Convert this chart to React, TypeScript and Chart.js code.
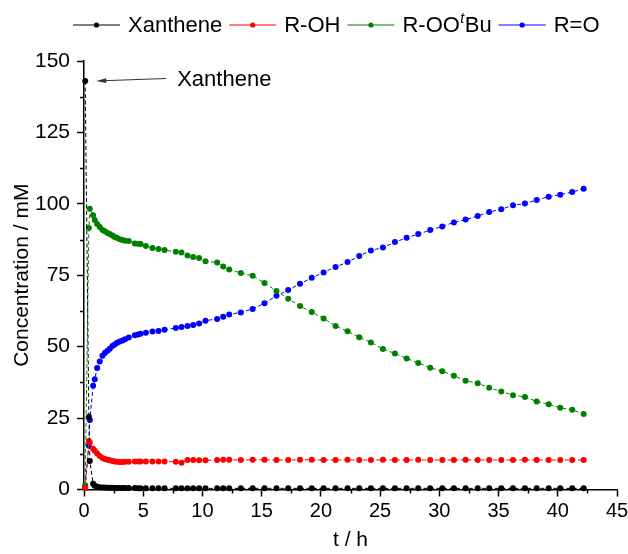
import React, { useEffect, useRef } from 'react';
import { Chart, registerables } from 'chart.js';

Chart.register(...registerables);

const FONT = '"Liberation Sans", Arial, Helvetica, sans-serif';

// time (h)
const timeH = [
  0.1, 0.41, 0.49, 0.77, 0.91, 1.11, 1.33, 1.56, 1.76, 1.98,
  2.18, 2.4, 2.6, 2.8, 3.02, 3.25, 3.47, 3.78, 4.29, 4.57,
  4.77, 5.22, 5.78, 6.29, 6.8, 7.75, 8.23, 8.74, 9.22, 9.72,
  10.26, 11.24, 11.75, 12.26, 13.24, 14.24, 15.24, 16.25, 17.24, 18.24,
  19.23, 20.23, 21.24, 22.25, 23.24, 24.22, 25.24, 26.25, 27.24, 28.22,
  29.23, 30.25, 31.23, 32.22, 33.24, 34.21, 35.23, 36.22, 37.23, 38.22,
  39.23, 40.21, 41.22, 42.19,
];

const xanthene = [
  143, 25.5, 10.0, 2.0, 1.3, 1.0, 0.8, 0.7, 0.7, 0.6,
  0.6, 0.6, 0.5, 0.5, 0.5, 0.5, 0.5, 0.5, 0.5, 0.4,
  0.4, 0.4, 0.4, 0.4, 0.4, 0.4, 0.4, 0.4, 0.4, 0.4,
  0.4, 0.4, 0.4, 0.4, 0.4, 0.4, 0.4, 0.4, 0.4, 0.4,
  0.4, 0.4, 0.4, 0.4, 0.4, 0.4, 0.4, 0.4, 0.4, 0.4,
  0.4, 0.4, 0.4, 0.4, 0.4, 0.4, 0.4, 0.4, 0.4, 0.4,
  0.4, 0.4, 0.4, 0.4,
];

const rOH = [
  0.5, 17.0, 16.5, 14.3, 13.6, 12.6, 11.7, 11.0, 10.7, 10.4,
  10.2, 10.0, 9.8, 9.7, 9.6, 9.6, 9.7, 9.7, 9.8, 9.8,
  9.8, 9.8, 9.8, 9.8, 9.8, 9.7, 9.4, 10.3, 10.3, 10.2,
  10.2, 10.3, 10.4, 10.4, 10.3, 10.4, 10.4, 10.3, 10.3, 10.4,
  10.4, 10.3, 10.3, 10.4, 10.3, 10.3, 10.4, 10.3, 10.3, 10.4,
  10.3, 10.3, 10.3, 10.4, 10.3, 10.3, 10.3, 10.3, 10.4, 10.3,
  10.3, 10.3, 10.3, 10.3,
];

const rOOtBu = [
  1.5, 91.5, 98.3, 96.0, 94.3, 92.9, 91.9, 90.8, 90.4, 89.8,
  89.4, 88.9, 88.4, 88.0, 87.6, 87.3, 87.1, 87.0, 86.1, 86.0,
  85.9, 85.2, 84.5, 84.2, 83.8, 83.2, 83.0, 81.9, 81.4, 81.0,
  79.9, 79.5, 78.1, 77.0, 75.8, 74.8, 72.3, 69.5, 66.8, 64.2,
  62.1, 59.9, 57.2, 55.4, 53.3, 51.5, 49.2, 47.6, 45.9, 44.3,
  42.6, 41.4, 39.8, 38.1, 37.2, 35.6, 34.3, 33.0, 32.4, 30.8,
  29.8, 28.6, 27.9, 26.4,
];

const rO = [
  1.0, 15.4, 24.3, 36.3, 38.6, 42.5, 44.8, 46.8, 47.8, 48.6,
  49.3, 50.2, 50.8, 51.4, 51.8, 52.2, 52.6, 53.2, 54.0, 54.3,
  54.5, 54.9, 55.3, 55.5, 55.9, 56.5, 56.9, 57.2, 57.6, 58.1,
  59.1, 59.7, 60.5, 61.3, 62.0, 63.2, 65.2, 67.8, 69.8, 72.0,
  74.1, 76.0, 77.9, 79.6, 81.7, 83.7, 84.7, 86.6, 88.1, 89.4,
  90.8, 92.1, 93.5, 94.5, 95.7, 97.1, 98.1, 99.5, 100.1, 101.3,
  102.5, 103.2, 104.1, 105.3,
];

const seriesLabels = ['Xanthene', 'R-OH', 'R-OO\u1D57Bu', 'R=O'];
const seriesColors = ['#000000', '#ff0000', '#008000', '#0000ff'];
const seriesValues = [xanthene, rOH, rOOtBu, rO];

const xMin = 0, xMax = 45, xStep = 5;
const yMin = 0, yMax = 150, yStep = 25;
const xTitle = 't / h';
const yTitle = 'Concentration / mM';
const annotationText = 'Xanthene';

const legendPlugin = {
  id: 'customLegend',
  afterDraw(chart: any) {
    const ctx = chart.ctx;
    ctx.save();
    let x = 73;
    const y = 25;
    chart.data.datasets.forEach((ds: any) => {
      const c = ds.borderColor;
      ctx.strokeStyle = c;
      ctx.lineWidth = 1.2;
      ctx.setLineDash([]);
      ctx.beginPath();
      ctx.moveTo(x, y);
      ctx.lineTo(x + 47, y);
      ctx.stroke();
      ctx.fillStyle = c;
      ctx.beginPath();
      ctx.arc(x + 23.5, y, 2.6, 0, Math.PI * 2);
      ctx.fill();
      x += 55;
      ctx.fillStyle = '#000';
      ctx.textBaseline = 'middle';
      ctx.textAlign = 'left';
      const parts = String(ds.label).split('\u1D57');
      ctx.font = `22px ${FONT}`;
      ctx.fillText(parts[0], x, y + 1);
      x += ctx.measureText(parts[0]).width;
      if (parts.length > 1) {
        ctx.font = `italic 14px ${FONT}`;
        ctx.fillText('t', x + 0.5, y - 6);
        x += ctx.measureText('t').width + 1;
        ctx.font = `22px ${FONT}`;
        ctx.fillText(parts[1], x, y + 1);
        x += ctx.measureText(parts[1]).width;
      }
      x += 7;
    });
    ctx.restore();
  },
};

const extrasPlugin = {
  id: 'extras',
  afterDraw(chart: any) {
    const ctx = chart.ctx;
    const xs = chart.scales.x;
    const ys = chart.scales.y;
    const { left, bottom } = chart.chartArea;
    ctx.save();
    // minor ticks
    ctx.strokeStyle = '#000';
    ctx.lineWidth = 1.5;
    ctx.setLineDash([]);
    for (let v = xMin + xStep / 2; v < xMax; v += xStep) {
      const px = Math.round(xs.getPixelForValue(v)) + 0.5;
      ctx.beginPath();
      ctx.moveTo(px, bottom);
      ctx.lineTo(px, bottom + 4);
      ctx.stroke();
    }
    for (let v = yMin + yStep / 2; v < yMax; v += yStep) {
      const py = Math.round(ys.getPixelForValue(v)) + 0.5;
      ctx.beginPath();
      ctx.moveTo(left, py);
      ctx.lineTo(left - 4, py);
      ctx.stroke();
    }
    // annotation arrow
    const tipX = xs.getPixelForValue(timeH[0]) + 11;
    const tipY = ys.getPixelForValue(xanthene[0]);
    const tailX = tipX + 70;
    const tailY = tipY - 2.5;
    ctx.strokeStyle = '#333';
    ctx.fillStyle = '#333';
    ctx.lineWidth = 1;
    ctx.beginPath();
    ctx.moveTo(tailX, tailY);
    ctx.lineTo(tipX + 8, tipY - 0.3);
    ctx.stroke();
    ctx.beginPath();
    ctx.moveTo(tipX, tipY);
    ctx.lineTo(tipX + 10, tipY - 2.7);
    ctx.lineTo(tipX + 10, tipY + 2.1);
    ctx.closePath();
    ctx.fill();
    ctx.fillStyle = '#000';
    ctx.font = `22px ${FONT}`;
    ctx.textAlign = 'left';
    ctx.textBaseline = 'middle';
    ctx.fillText(annotationText, tailX + 11, tailY + 1);
    ctx.restore();
  },
};

export default function App() {
  const canvasRef = useRef<HTMLCanvasElement | null>(null);

  useEffect(() => {
    const canvas = canvasRef.current;
    if (!canvas) return;
    const datasets = seriesLabels.map((label, i) => ({
      label,
      data: timeH.map((t, j) => ({ x: t, y: seriesValues[i][j] })),
      borderColor: seriesColors[i],
      backgroundColor: seriesColors[i],
      pointBackgroundColor: seriesColors[i],
      pointBorderWidth: 0,
      pointRadius: 3,
      borderWidth: 1,
      borderDash: [4, 2.5],
      tension: 0,
      fill: false,
      clip: false as any,
    }));
    const chart = new Chart(canvas, {
      type: 'line',
      data: { datasets },
      options: {
        animation: false,
        responsive: false,
        devicePixelRatio: 1,
        events: [],
        layout: { padding: { left: 0, right: 11, top: 61, bottom: 0 } },
        plugins: {
          legend: { display: false },
          tooltip: { enabled: false },
        },
        scales: {
          x: {
            type: 'linear',
            position: 'bottom',
            min: xMin,
            max: xMax,
            ticks: {
              stepSize: xStep,
              autoSkip: false,
              maxRotation: 0,
              color: '#000',
              padding: 3,
              font: { size: 20, family: FONT },
            },
            grid: {
              drawOnChartArea: false,
              drawTicks: true,
              tickLength: 7,
              tickWidth: 1.5,
              tickColor: '#000',
            },
            border: { display: true, color: '#000', width: 1.5 },
            title: {
              display: true,
              text: xTitle,
              color: '#000',
              font: { size: 21, family: FONT },
              padding: { top: 0, bottom: 1.5 },
            },
            afterFit: (s: any) => {
              s.height = 64.5;
              s.paddingRight = 0;
              s.paddingLeft = 0;
            },
          },
          y: {
            type: 'linear',
            min: yMin,
            max: yMax,
            ticks: {
              stepSize: yStep,
              color: '#000',
              padding: 7,
              font: { size: 21, family: FONT },
            },
            grid: {
              drawOnChartArea: false,
              drawTicks: true,
              tickLength: 7,
              tickWidth: 1.5,
              tickColor: '#000',
            },
            border: { display: true, color: '#000', width: 1.5 },
            title: {
              display: true,
              text: yTitle,
              color: '#000',
              font: { size: 21, family: FONT },
              padding: { top: 10, bottom: 0 },
            },
            afterFit: (s: any) => {
              s.width = 84;
              s.paddingTop = 0;
              s.paddingBottom = 0;
            },
          },
        },
      },
      plugins: [legendPlugin, extrasPlugin],
    });
    return () => chart.destroy();
  }, []);

  return (
    <div style={{ position: 'absolute', left: 0, top: 0, width: 628, height: 554, background: '#fff' }}>
      <canvas ref={canvasRef} width={628} height={554} style={{ display: 'block' }} />
    </div>
  );
}
